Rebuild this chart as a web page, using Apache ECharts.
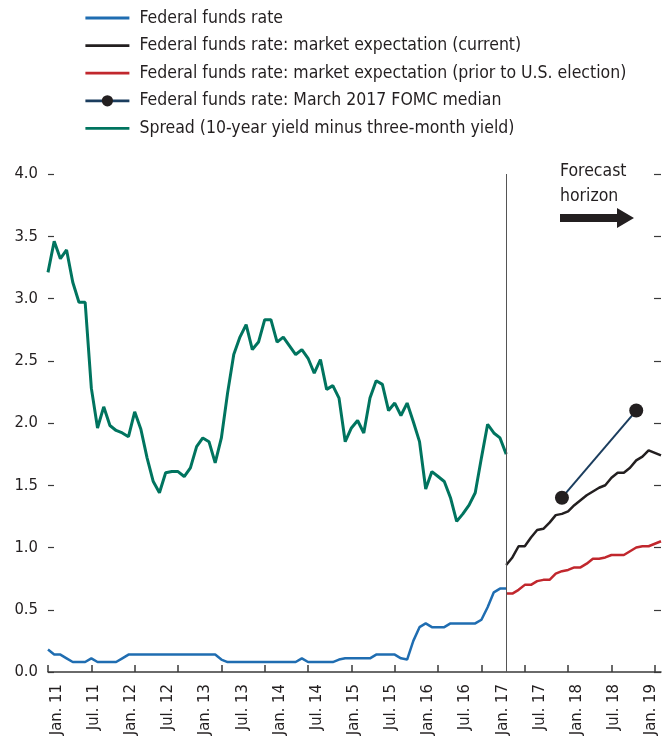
<!DOCTYPE html>
<html>
<head>
<meta charset="utf-8">
<script src="https://cdn.jsdelivr.net/npm/echarts@6/dist/echarts.min.js"></script>
<style>
  html, body { margin: 0; padding: 0; background: #fff; }
  #main { width: 666px; height: 742px; }
</style>
</head>
<body>
<div id="main"></div>
<script>
var FONT = '"DejaVu Sans Condensed", "Liberation Sans", sans-serif';

// month labels, Jan 2011 .. Apr 2019
var monthNames = ['Jan.', 'Feb.', 'Mar.', 'Apr.', 'May', 'Jun.', 'Jul.', 'Aug.', 'Sep.', 'Oct.', 'Nov.', 'Dec.'];
var categories = [];
for (var y = 11; y <= 19; y++) {
  for (var m = 0; m < 12; m++) {
    if (y === 19 && m > 3) break;
    categories.push(monthNames[m] + ' ' + y);
  }
}

// history, Jan 2011 .. Mar 2017
var spread = [3.21, 3.46, 3.32, 3.39, 3.13, 2.97, 2.97, 2.28, 1.96, 2.13,
  1.98, 1.94, 1.92, 1.89, 2.09, 1.95, 1.72, 1.53, 1.44, 1.60,
  1.61, 1.61, 1.57, 1.64, 1.81, 1.88, 1.85, 1.68, 1.88, 2.24,
  2.55, 2.69, 2.79, 2.59, 2.65, 2.83, 2.83, 2.65, 2.69, 2.62,
  2.55, 2.59, 2.52, 2.40, 2.51, 2.27, 2.30, 2.20, 1.85, 1.96,
  2.02, 1.92, 2.20, 2.34, 2.31, 2.10, 2.16, 2.06, 2.16, 2.01,
  1.85, 1.47, 1.61, 1.57, 1.53, 1.40, 1.21, 1.27, 1.34, 1.44,
  1.72, 1.99, 1.92, 1.88, 1.75];

var fedFunds = [0.18, 0.14, 0.14, 0.11, 0.08, 0.08, 0.08, 0.11, 0.08, 0.08,
  0.08, 0.08, 0.11, 0.14, 0.14, 0.14, 0.14, 0.14, 0.14, 0.14,
  0.14, 0.14, 0.14, 0.14, 0.14, 0.14, 0.14, 0.14, 0.10, 0.08,
  0.08, 0.08, 0.08, 0.08, 0.08, 0.08, 0.08, 0.08, 0.08, 0.08,
  0.08, 0.11, 0.08, 0.08, 0.08, 0.08, 0.08, 0.10, 0.11, 0.11,
  0.11, 0.11, 0.11, 0.14, 0.14, 0.14, 0.14, 0.11, 0.10, 0.25,
  0.36, 0.39, 0.36, 0.36, 0.36, 0.39, 0.39, 0.39, 0.39, 0.39,
  0.42, 0.52, 0.64, 0.67, 0.67];

// forecasts, Mar 2017 .. Apr 2019
var forecastStart = 74;
var expCurrent = [0.86, 0.92, 1.01, 1.01, 1.08, 1.14, 1.15, 1.20, 1.26, 1.27,
  1.29, 1.34, 1.38, 1.42, 1.45, 1.48, 1.50, 1.56, 1.60, 1.60,
  1.64, 1.70, 1.73, 1.78, 1.76, 1.74];
var expPrior = [0.63, 0.63, 0.66, 0.70, 0.70, 0.73, 0.74, 0.74, 0.79, 0.81,
  0.82, 0.84, 0.84, 0.87, 0.91, 0.91, 0.92, 0.94, 0.94, 0.94,
  0.97, 1.00, 1.01, 1.01, 1.03, 1.05];

// FOMC median (Dec. 2017, Dec. 2018)
var fomcMonths = ['Dec. 17', 'Dec. 18'];
var fomcValues = [1.4, 2.1];

var names = [
  'Federal funds rate',
  'Federal funds rate: market expectation (current)',
  'Federal funds rate: market expectation (prior to U.S. election)',
  'Federal funds rate: March 2017 FOMC median',
  'Spread (10-year yield minus three-month yield)'
];

function pad(arr, start) {
  return new Array(start).fill('-').concat(arr);
}

var fomcData = fomcMonths.map(function (c, i) { return [c, fomcValues[i]]; });

var chart = echarts.init(document.getElementById('main'), null, { renderer: 'canvas' });

// line-only legend entries: hide the symbol dot
var legendData = names.map(function (n, i) {
  return i === 3 ? { name: n } : { name: n, itemStyle: { opacity: 0 } };
});

var option = {
  animation: false,
  textStyle: { fontFamily: FONT },
  legend: {
    orient: 'vertical',
    left: 84,
    top: 8,
    padding: 0,
    itemWidth: 44,
    itemHeight: 14,
    itemGap: 7.6,
    data: legendData,
    lineStyle: { width: 2.8 },
    textStyle: { fontFamily: FONT, fontSize: 17.5, lineHeight: 20, color: '#231f20', padding: [0, 0, 0, 5] }
  },
  grid: { left: 48, right: 5, top: 174, bottom: 70 },
  xAxis: {
    type: 'category',
    data: categories,
    boundaryGap: false,
    axisLine: { lineStyle: { color: '#3a3a3a', width: 1.5 } },
    axisTick: { inside: true, length: 7, interval: 6, lineStyle: { color: '#3a3a3a', width: 1.5 } },
    axisLabel: {
      interval: 5,
      rotate: 90,
      margin: 12,
      verticalAlign: 'top',
      fontFamily: FONT,
      fontSize: 16.5,
      color: '#231f20'
    },
    splitLine: { show: false }
  },
  yAxis: [{
    type: 'value',
    min: 0,
    max: 4,
    interval: 0.5,
    axisLine: { show: false },
    axisTick: { show: true, inside: true, length: 6, lineStyle: { color: '#3a3a3a', width: 1.2 } },
    axisLabel: {
      margin: 10,
      fontFamily: FONT,
      fontSize: 16.5,
      color: '#231f20',
      formatter: function (v) { return v.toFixed(1); }
    },
    splitLine: { show: false }
  }, {
    type: 'value',
    position: 'right',
    min: 0,
    max: 4,
    interval: 0.5,
    axisLine: { show: false },
    axisTick: { show: true, inside: true, length: 7, lineStyle: { color: '#3a3a3a', width: 1.2 } },
    axisLabel: { show: false },
    splitLine: { show: false }
  }],
  series: [
    {
      name: names[0],
      type: 'line',
      symbol: 'none',
      data: fedFunds,
      lineStyle: { color: '#1f6db1', width: 2.5 },
      itemStyle: { color: '#1f6db1' },
      z: 3,
      markLine: {
        silent: true,
        symbol: 'none',
        label: { show: false },
        lineStyle: { color: '#555', width: 1, type: 'solid' },
        data: [{ xAxis: forecastStart }]
      }
    },
    {
      name: names[1],
      type: 'line',
      symbol: 'none',
      data: pad(expCurrent, forecastStart),
      lineStyle: { color: '#231f20', width: 2.5 },
      itemStyle: { color: '#231f20' }
    },
    {
      name: names[2],
      type: 'line',
      symbol: 'none',
      data: pad(expPrior, forecastStart),
      lineStyle: { color: '#c1272d', width: 2.5 },
      itemStyle: { color: '#c1272d' }
    },
    {
      name: names[3],
      type: 'line',
      symbol: 'circle',
      symbolSize: 14,
      showSymbol: true,
      showAllSymbol: true,
      data: fomcData,
      lineStyle: { color: '#1b3d5e', width: 2 },
      itemStyle: { color: '#231f20' },
      z: 4
    },
    {
      name: names[4],
      type: 'line',
      symbol: 'none',
      data: spread,
      lineStyle: { color: '#00745f', width: 3 },
      itemStyle: { color: '#00745f' }
    }
  ],
  graphic: [
    {
      type: 'text',
      left: 560,
      top: 159,
      style: {
        text: 'Forecast\nhorizon',
        font: '17.5px ' + FONT,
        lineHeight: 25,
        fill: '#231f20'
      }
    },
    {
      type: 'polygon',
      shape: {
        points: [[560, 214], [617, 214], [617, 208], [634, 218], [617, 228], [617, 222], [560, 222]]
      },
      style: { fill: '#231f20' }
    }
  ]
};

chart.setOption(option);
</script>
</body>
</html>
